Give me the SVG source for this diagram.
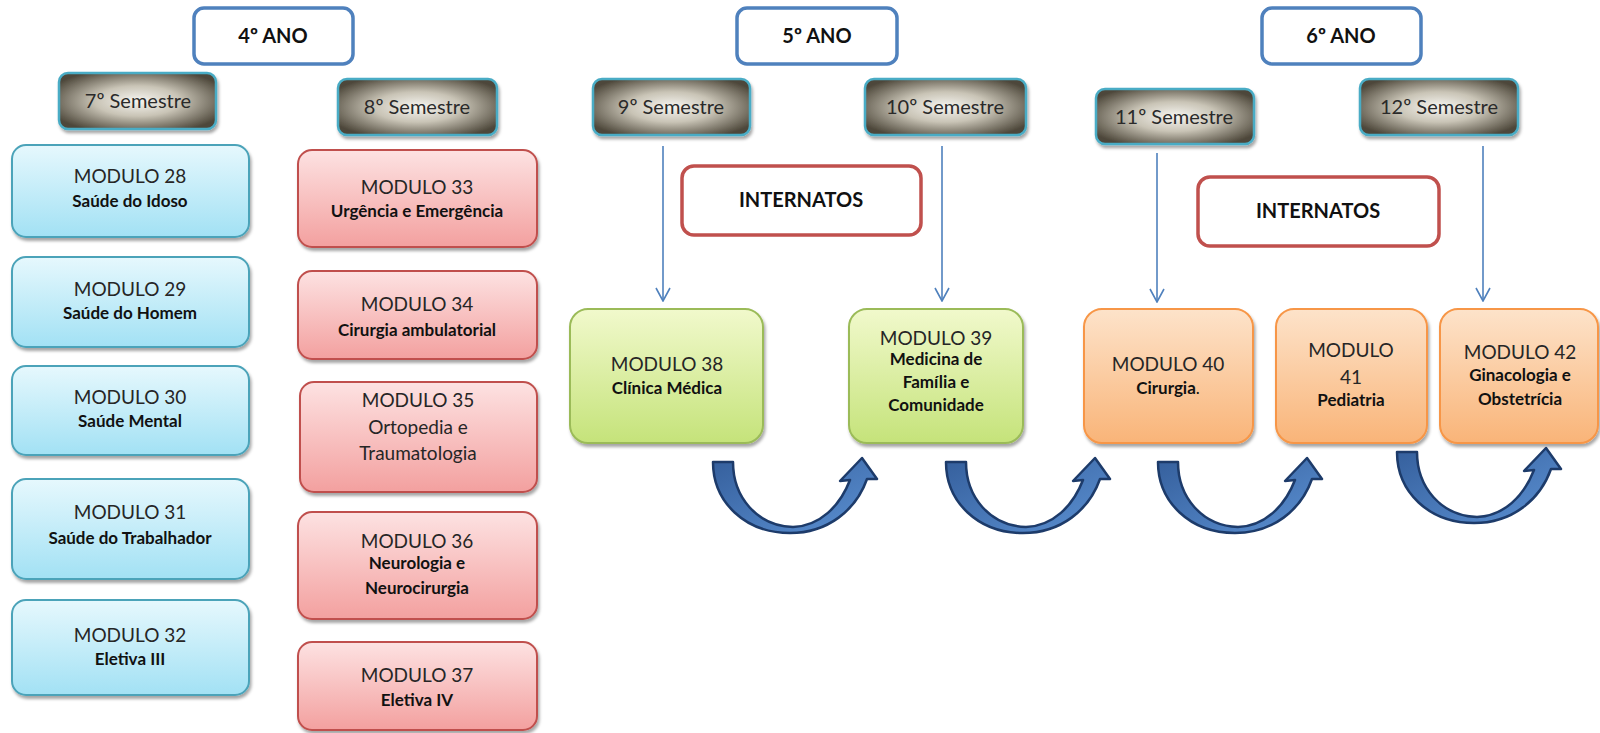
<svg xmlns="http://www.w3.org/2000/svg" width="1600" height="733" viewBox="0 0 1600 733">
<defs>
<filter id="sh" x="-10%" y="-10%" width="125%" height="135%"><feDropShadow dx="1.5" dy="3" stdDeviation="1.8" flood-color="#000" flood-opacity="0.35"/></filter>
<linearGradient id="gBlue" x1="0" y1="0" x2="0" y2="1"><stop offset="0" stop-color="#e6f8fd"/><stop offset="1" stop-color="#a2e1f4"/></linearGradient>
<linearGradient id="gRed" x1="0" y1="0" x2="0" y2="1"><stop offset="0" stop-color="#fde2e2"/><stop offset="1" stop-color="#f3a09f"/></linearGradient>
<linearGradient id="gGreen" x1="0" y1="0" x2="0" y2="1"><stop offset="0" stop-color="#f1f9cc"/><stop offset="1" stop-color="#c5e37a"/></linearGradient>
<linearGradient id="gOrange" x1="0" y1="0" x2="0" y2="1"><stop offset="0" stop-color="#fde3ca"/><stop offset="1" stop-color="#f9b478"/></linearGradient>
<radialGradient id="gSem" cx="0.5" cy="0.5" r="0.6"><stop offset="0" stop-color="#f7f6f2"/><stop offset="0.45" stop-color="#c9c4b6"/><stop offset="1" stop-color="#4d473a"/></radialGradient>
<linearGradient id="gArr" x1="0" y1="0" x2="1" y2="1"><stop offset="0" stop-color="#355f9c"/><stop offset="1" stop-color="#5b90d2"/></linearGradient>
<marker id="vh" viewBox="0 0 16 16" refX="15" refY="8" markerWidth="16" markerHeight="16" markerUnits="userSpaceOnUse" orient="auto"><path d="M2,1 L15,8 L2,15" fill="none" stroke="#4f81bd" stroke-width="1.6"/></marker>
<path id="curv" d="M713,462 L733,462 C733,497 757,526 793,527 C820,526 840,506 850,480 L840,481 L862,458 L877,479 L867,479 C856,510 828,533 790,533 C745,533 713,502 713,462 Z"/>
</defs>
<style>
.mod{font-family:Lato,"Liberation Sans",sans-serif;font-size:19px;fill:#262626;text-anchor:middle}
.sub{font-family:Lato,"Liberation Sans",sans-serif;font-size:17px;font-weight:bold;fill:#111;text-anchor:middle}
.subr{font-family:Lato,"Liberation Sans",sans-serif;font-size:19px;fill:#262626;text-anchor:middle}
.sem{font-family:Lato,"Liberation Sans",sans-serif;font-size:20px;fill:#2a2a2a;text-anchor:middle}
.hd{font-family:Lato,"Liberation Sans",sans-serif;font-size:20px;font-weight:bold;fill:#111;text-anchor:middle}
.year{fill:#fff;stroke:#4f81bd;stroke-width:3.5}
.intern{fill:#fff;stroke:#c0504d;stroke-width:3.5}
.semb{fill:url(#gSem);stroke:#4aacc5;stroke-width:2.5;filter:url(#sh)}
.blue{fill:url(#gBlue);stroke:#4ba3b9;stroke-width:2;filter:url(#sh)}
.red{fill:url(#gRed);stroke:#c0504d;stroke-width:2;filter:url(#sh)}
.green{fill:url(#gGreen);stroke:#9bbb59;stroke-width:2;filter:url(#sh)}
.orange{fill:url(#gOrange);stroke:#f79646;stroke-width:2;filter:url(#sh)}
.vline{stroke:#4f81bd;stroke-width:1.6;fill:none}
.carr{fill:url(#gArr);stroke:#1d3b6a;stroke-width:2.5;stroke-linejoin:round}
</style>
<rect width="1600" height="733" fill="#fff"/>

<g id="ano4"><rect class="year" x="194" y="8" width="159" height="56" rx="10"/><text class="hd" x="273" y="43">4º ANO</text></g>
<g id="ano5"><rect class="year" x="737" y="8" width="160" height="56" rx="10"/><text class="hd" x="817" y="43">5º ANO</text></g>
<g id="ano6"><rect class="year" x="1262" y="8" width="159" height="56" rx="10"/><text class="hd" x="1341" y="43">6º ANO</text></g>

<g id="sem7"><rect class="semb" x="59" y="73" width="157" height="56" rx="9"/><text class="sem" x="138" y="108">7º Semestre</text></g>
<g id="sem8"><rect class="semb" x="338" y="79" width="159" height="56" rx="9"/><text class="sem" x="417" y="114">8º Semestre</text></g>
<g id="sem9"><rect class="semb" x="593" y="79" width="157" height="56" rx="9"/><text class="sem" x="671" y="114">9º Semestre</text></g>
<g id="sem10"><rect class="semb" x="865" y="79" width="161" height="56" rx="9"/><text class="sem" x="945" y="114">10º Semestre</text></g>
<g id="sem11"><rect class="semb" x="1096" y="89" width="158" height="55" rx="9"/><text class="sem" x="1174" y="124">11º Semestre</text></g>
<g id="sem12"><rect class="semb" x="1360" y="79" width="158" height="56" rx="9"/><text class="sem" x="1439" y="114">12º Semestre</text></g>

<g id="intern1"><rect class="intern" x="682" y="166" width="239" height="69" rx="12"/><text class="hd" x="801" y="207">INTERNATOS</text></g>
<g id="intern2"><rect class="intern" x="1198" y="177" width="241" height="69" rx="12"/><text class="hd" x="1318" y="218">INTERNATOS</text></g>

<g id="m28"><rect class="blue" x="12" y="145" width="237" height="92" rx="14"/><text class="mod" x="130" y="183">MODULO 28</text><text class="sub" x="130" y="207">Saúde do Idoso</text></g>
<g id="m29"><rect class="blue" x="12" y="257" width="237" height="90" rx="14"/><text class="mod" x="130" y="296">MODULO 29</text><text class="sub" x="130" y="319">Saúde do Homem</text></g>
<g id="m30"><rect class="blue" x="12" y="366" width="237" height="89" rx="14"/><text class="mod" x="130" y="404">MODULO 30</text><text class="sub" x="130" y="427">Saúde Mental</text></g>
<g id="m31"><rect class="blue" x="12" y="479" width="237" height="100" rx="14"/><text class="mod" x="130" y="519">MODULO 31</text><text class="sub" x="130" y="544">Saúde do Trabalhador</text></g>
<g id="m32"><rect class="blue" x="12" y="600" width="237" height="95" rx="14"/><text class="mod" x="130" y="642">MODULO 32</text><text class="sub" x="130" y="665">Eletiva III</text></g>

<g id="m33"><rect class="red" x="298" y="150" width="239" height="97" rx="14"/><text class="mod" x="417" y="194">MODULO 33</text><text class="sub" x="417" y="217">Urgência e Emergência</text></g>
<g id="m34"><rect class="red" x="298" y="271" width="239" height="88" rx="14"/><text class="mod" x="417" y="311">MODULO 34</text><text class="sub" x="417" y="336">Cirurgia ambulatorial</text></g>
<g id="m35"><rect class="red" x="300" y="382" width="237" height="110" rx="14"/><text class="mod" x="418" y="407">MODULO 35</text><text class="subr" x="418" y="434">Ortopedia e</text><text class="subr" x="418" y="460">Traumatologia</text></g>
<g id="m36"><rect class="red" x="298" y="512" width="239" height="107" rx="14"/><text class="mod" x="417" y="548">MODULO 36</text><text class="sub" x="417" y="569">Neurologia e</text><text class="sub" x="417" y="594">Neurocirurgia</text></g>
<g id="m37"><rect class="red" x="298" y="642" width="239" height="88" rx="14"/><text class="mod" x="417" y="682">MODULO 37</text><text class="sub" x="417" y="706">Eletiva IV</text></g>

<g id="m38"><rect class="green" x="570" y="309" width="193" height="134" rx="18"/><text class="mod" x="667" y="371">MODULO 38</text><text class="sub" x="667" y="394">Clínica Médica</text></g>
<g id="m39"><rect class="green" x="849" y="309" width="174" height="134" rx="18"/><text class="mod" x="936" y="345">MODULO 39</text><text class="sub" x="936" y="365">Medicina de</text><text class="sub" x="936" y="388">Família e</text><text class="sub" x="936" y="411">Comunidade</text></g>
<g id="m40"><rect class="orange" x="1084" y="309" width="169" height="134" rx="18"/><text class="mod" x="1168" y="371">MODULO 40</text><text class="sub" x="1168" y="394">Cirurgia<tspan font-weight="normal">.</tspan></text></g>
<g id="m41"><rect class="orange" x="1276" y="309" width="151" height="134" rx="18"/><text class="mod" x="1351" y="357">MODULO</text><text class="mod" x="1351" y="384">41</text><text class="sub" x="1351" y="406">Pediatria</text></g>
<g id="m42"><rect class="orange" x="1440" y="309" width="158" height="134" rx="18"/><text class="mod" x="1520" y="359">MODULO 42</text><text class="sub" x="1520" y="381">Ginacologia e</text><text class="sub" x="1520" y="405">Obstetrícia</text></g>

<g id="connectors">
<line class="vline" x1="663" y1="146" x2="663" y2="301" marker-end="url(#vh)"/>
<line class="vline" x1="942" y1="146" x2="942" y2="301" marker-end="url(#vh)"/>
<line class="vline" x1="1157" y1="153" x2="1157" y2="302" marker-end="url(#vh)"/>
<line class="vline" x1="1483" y1="146" x2="1483" y2="301" marker-end="url(#vh)"/>
<use href="#curv" class="carr"/>
<use href="#curv" class="carr" transform="translate(233,0)"/>
<use href="#curv" class="carr" transform="translate(445,0)"/>
<use href="#curv" class="carr" transform="translate(684,-10)"/>
</g>
</svg>
